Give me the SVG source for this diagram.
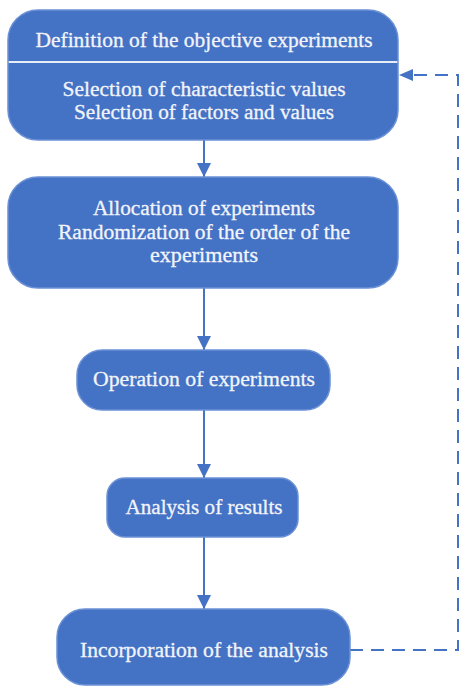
<svg xmlns="http://www.w3.org/2000/svg" width="461" height="688" viewBox="0 0 461 688">
<defs>
<style>
.box{fill:#4472C4;stroke:#6B91D6;stroke-width:1.5}
.t{font-family:"Liberation Serif","DejaVu Serif",serif;font-size:20px;fill:#F2F4FA;stroke:#F2F4FA;stroke-width:0.3;text-anchor:middle}
.c{stroke:#4472C4;stroke-width:2;fill:none}
.d{stroke:#4472C4;stroke-width:2;fill:none;stroke-dasharray:13 8}
</style>
<marker id="ah" viewBox="0 0 10 10" refX="10" refY="5" markerWidth="14" markerHeight="14" markerUnits="userSpaceOnUse" orient="auto">
<path d="M0,0 L10,5 L0,10 z" fill="#4472C4"/>
</marker>
</defs>
<rect width="461" height="688" fill="#ffffff"/>
<g id="connectors">
<line class="c" x1="204" y1="140" x2="204" y2="177" marker-end="url(#ah)"/>
<line class="c" x1="204" y1="288" x2="204" y2="350" marker-end="url(#ah)"/>
<line class="c" x1="204" y1="410" x2="204" y2="478" marker-end="url(#ah)"/>
<line class="c" x1="204" y1="537" x2="204" y2="609" marker-end="url(#ah)"/>
<path class="d" d="M350,650 H458 V75 H412"/>
<path d="M399,75 L413,69 L413,81 z" fill="#4472C4"/>
</g>
<g id="node1">
<rect class="box" x="8" y="10" width="390" height="130" rx="30" ry="30"/>
<line x1="8.7" y1="62" x2="397.3" y2="62" stroke="#E8EEF8" stroke-width="2"/>
<text class="t" x="204" y="47" textLength="337" lengthAdjust="spacingAndGlyphs">Definition of the objective experiments</text>
<text class="t" x="204" y="96" textLength="283" lengthAdjust="spacingAndGlyphs">Selection of characteristic values</text>
<text class="t" x="204" y="119" textLength="260" lengthAdjust="spacingAndGlyphs">Selection of factors and values</text>
</g>
<g id="node2">
<rect class="box" x="8" y="177" width="390" height="111" rx="30" ry="30"/>
<text class="t" x="204" y="215" textLength="222" lengthAdjust="spacingAndGlyphs">Allocation of experiments</text>
<text class="t" x="204" y="239" textLength="292" lengthAdjust="spacingAndGlyphs">Randomization of the order of the</text>
<text class="t" x="204" y="262" textLength="108" lengthAdjust="spacingAndGlyphs">experiments</text>
</g>
<g id="node3">
<rect class="box" x="77" y="350" width="253" height="60" rx="25" ry="25"/>
<text class="t" x="204" y="386" textLength="222" lengthAdjust="spacingAndGlyphs">Operation of experiments</text>
</g>
<g id="node4">
<rect class="box" x="107" y="478" width="191" height="59" rx="18" ry="18"/>
<text class="t" x="204" y="514" textLength="157" lengthAdjust="spacingAndGlyphs">Analysis of results</text>
</g>
<g id="node5">
<rect class="box" x="57" y="609" width="293" height="76" rx="28" ry="28"/>
<text class="t" x="204" y="657" textLength="248" lengthAdjust="spacingAndGlyphs">Incorporation of the analysis</text>
</g>
</svg>
